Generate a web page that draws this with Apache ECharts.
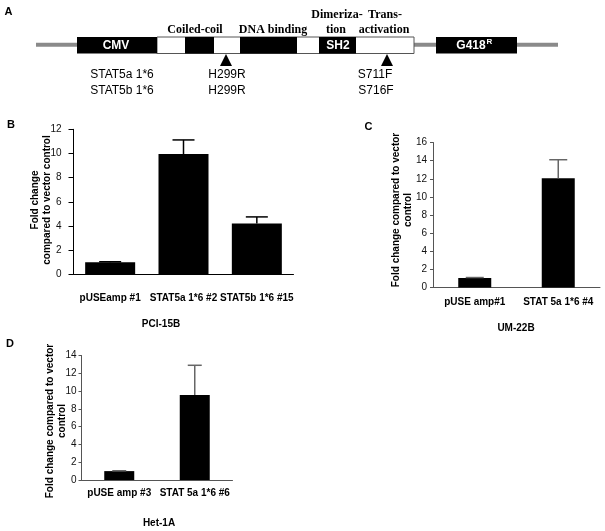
<!DOCTYPE html>
<html><head><meta charset="utf-8">
<script src="https://cdn.jsdelivr.net/npm/echarts@6/dist/echarts.min.js"></script>
<style>html,body{margin:0;padding:0;background:#fff}#c{width:605px;height:531px}</style>
</head><body><div id="c"></div>
<script>
// ---- data ----
const catsB = ['pUSEamp #1', 'STAT5a 1*6 #2', 'STAT5b 1*6 #15'];
const valsB = [1.0, 9.95, 4.2];
const errB = [0.04, 1.17, 0.55];
const catsC = ['pUSE amp#1', 'STAT 5a 1*6 #4'];
const valsC = [1.05, 12.05];
const errC = [0.05, 2.05];
const catsD = ['pUSE amp #3', 'STAT 5a 1*6 #6'];
const valsD = [1.0, 9.55];
const errD = [0.04, 3.35];
const yMaxB = 12, yMaxC = 16, yMaxD = 14;

const SANS = 'Liberation Sans, Arial, sans-serif';
const SERIF = 'Liberation Serif, Times New Roman, serif';

const chart = echarts.init(document.getElementById('c'), null, {renderer: 'canvas'});

function errSeries(idx, vals, errs, color, cap, lw) {
  return {
    type: 'custom', xAxisIndex: idx, yAxisIndex: idx, z: 5,
    data: vals.map((v, i) => [i, v, errs[i]]),
    renderItem: function (params, api) {
      const x = api.value(0), y = api.value(1), e = api.value(2);
      const p0 = api.coord([x, y]);
      const p1 = api.coord([x, y + e]);
      return {
        type: 'group',
        children: [
          {type: 'line', shape: {x1: p0[0], y1: p0[1], x2: p1[0], y2: p1[1]}, style: {stroke: color, lineWidth: lw}},
          {type: 'line', shape: {x1: p1[0] - cap / 2, y1: p1[1], x2: p1[0] + cap / 2, y2: p1[1]}, style: {stroke: color, lineWidth: lw}}
        ]
      };
    }
  };
}

function xAx(idx, cats, color, align, margin, tickLen) {
  return {
    type: 'category', gridIndex: idx, data: cats,
    axisLine: {lineStyle: {color: color, width: 1}},
    axisTick: {alignWithLabel: align, length: tickLen, lineStyle: {color: color}},
    axisLabel: {interval: 0, fontFamily: SANS, fontWeight: 'bold', fontSize: 10, color: '#000', margin: margin}
  };
}
function yAx(idx, max, color, margin, tickLen) {
  return {
    type: 'value', gridIndex: idx, min: 0, max: max, interval: 2,
    axisLine: {show: true, lineStyle: {color: color, width: 1}},
    axisTick: {show: true, length: tickLen, lineStyle: {color: color}},
    splitLine: {show: false},
    axisLabel: {fontFamily: SANS, fontSize: 10, color: '#111', margin: margin}
  };
}

function txt(x, y, s, opt) {
  return Object.assign({type: 'text', x: x, y: y, style: Object.assign({
    text: s, fontFamily: SANS, fontSize: 12, fill: '#000', align: 'center', verticalAlign: 'middle'
  }, opt || {})});
}
function rect(x, y, w, h, fill, stroke) {
  return {type: 'rect', shape: {x: x, y: y, width: w, height: h},
    style: stroke ? {fill: fill, stroke: stroke, lineWidth: 1} : {fill: fill}};
}
function tri(cx, top, bottom, w) {
  return {type: 'polygon', shape: {points: [[cx - w / 2, bottom], [cx + w / 2, bottom], [cx, top]]}, style: {fill: '#000'}};
}

const graphics = [
  // panel A schematic
  rect(36, 42.7, 522, 4, '#8a8a8a'),
  rect(157, 37, 257, 16.5, '#fff', '#555'),
  rect(77, 37, 80, 16.5, '#000'),
  rect(185, 37, 29, 16.5, '#000'),
  rect(240, 37, 57, 16.5, '#000'),
  rect(319, 37, 37, 16.5, '#000'),
  rect(436, 37, 81, 16.5, '#000'),
  tri(226, 54, 66, 12),
  tri(387, 54, 66, 12),
  txt(116, 45.5, 'CMV', {fill: '#fff', fontWeight: 'bold', fontSize: 12}),
  txt(338, 45.5, 'SH2', {fill: '#fff', fontWeight: 'bold', fontSize: 12}),
  txt(471, 46, 'G418', {fill: '#fff', fontWeight: 'bold', fontSize: 12}),
  txt(489.5, 41.5, 'R', {fill: '#fff', fontWeight: 'bold', fontSize: 8}),
  txt(195, 30, 'Coiled-coil', {fontFamily: SERIF, fontWeight: 'bold', fontSize: 12}),
  txt(273, 30, 'DNA binding', {fontFamily: SERIF, fontWeight: 'bold', fontSize: 12}),
  txt(337, 15, 'Dimeriza-', {fontFamily: SERIF, fontWeight: 'bold', fontSize: 12}),
  txt(336, 30, 'tion', {fontFamily: SERIF, fontWeight: 'bold', fontSize: 12}),
  txt(385, 15, 'Trans-', {fontFamily: SERIF, fontWeight: 'bold', fontSize: 12}),
  txt(384, 30, 'activation', {fontFamily: SERIF, fontWeight: 'bold', fontSize: 12}),
  txt(122, 75, 'STAT5a 1*6'),
  txt(122, 91, 'STAT5b 1*6'),
  txt(227, 75, 'H299R'),
  txt(227, 91, 'H299R'),
  txt(375, 75, 'S711F'),
  txt(376, 91, 'S716F'),
  // panel letters
  txt(8.5, 11.5, 'A', {fontWeight: 'bold', fontSize: 11}),
  txt(11, 125, 'B', {fontWeight: 'bold', fontSize: 11}),
  txt(368.5, 127, 'C', {fontWeight: 'bold', fontSize: 11}),
  txt(10, 344, 'D', {fontWeight: 'bold', fontSize: 11}),
  // titles
  txt(161, 324, 'PCI-15B', {fontWeight: 'bold', fontSize: 10}),
  txt(516, 328, 'UM-22B', {fontWeight: 'bold', fontSize: 10}),
  txt(159, 523, 'Het-1A', {fontWeight: 'bold', fontSize: 10}),
  // y-axis names
  {type: 'text', x: 41, y: 200, rotation: Math.PI / 2,
    style: {text: 'Fold change\ncompared to vector control', fontFamily: SANS, fontWeight: 'bold', fontSize: 10, lineHeight: 12, fill: '#000', align: 'center', verticalAlign: 'middle'}},
  {type: 'text', x: 402, y: 210, rotation: Math.PI / 2,
    style: {text: 'Fold change compared to vector\ncontrol', fontFamily: SANS, fontWeight: 'bold', fontSize: 10, lineHeight: 12, fill: '#000', align: 'center', verticalAlign: 'middle'}},
  {type: 'text', x: 56, y: 421, rotation: Math.PI / 2,
    style: {text: 'Fold change compared to vector\ncontrol', fontFamily: SANS, fontWeight: 'bold', fontSize: 10, lineHeight: 12, fill: '#000', align: 'center', verticalAlign: 'middle'}}
];

const option = {
  animation: false,
  backgroundColor: '#fff',
  textStyle: {fontFamily: SANS},
  grid: [
    {left: 73.5, top: 129.3, width: 220, height: 145, outerBoundsMode: 'none', containLabel: false},
    {left: 433, top: 142.5, width: 167, height: 145, outerBoundsMode: 'none', containLabel: false},
    {left: 81.5, top: 355.5, width: 151, height: 124.5, outerBoundsMode: 'none', containLabel: false}
  ],
  xAxis: [
    xAx(0, catsB, '#000', true, 19, 5),
    xAx(1, catsC, '#555', false, 10, 4),
    xAx(2, catsD, '#555', false, 8, 4)
  ],
  yAxis: [
    yAx(0, yMaxB, '#000', 12, 5),
    yAx(1, yMaxC, '#555', 6, 3),
    yAx(2, yMaxD, '#555', 5, 3)
  ],
  series: [
    {type: 'bar', xAxisIndex: 0, yAxisIndex: 0, data: valsB, barWidth: 50, itemStyle: {color: '#000'}},
    {type: 'bar', xAxisIndex: 1, yAxisIndex: 1, data: valsC, barWidth: 33, itemStyle: {color: '#000'}},
    {type: 'bar', xAxisIndex: 2, yAxisIndex: 2, data: valsD, barWidth: 30, itemStyle: {color: '#000'}},
    errSeries(0, valsB, errB, '#000', 22, 1.5),
    errSeries(1, valsC, errC, '#666', 18, 1.5),
    errSeries(2, valsD, errD, '#666', 14, 1.5)
  ],
  graphic: graphics
};
chart.setOption(option);
</script>
</body></html>
